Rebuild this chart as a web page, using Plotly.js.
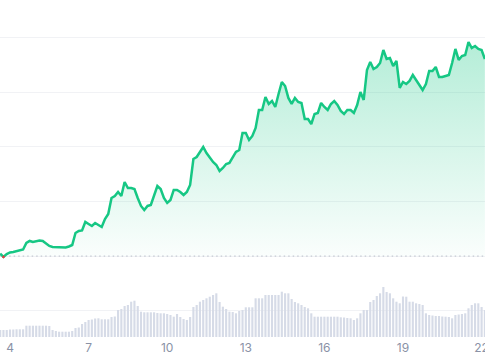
<!DOCTYPE html>
<html>
<head>
<meta charset="utf-8">
<script src="https://cdn.plot.ly/plotly-3.0.1.min.js"></script>
<style>html,body{margin:0;padding:0;background:#fff;overflow:hidden;}#chart{width:485px;height:360px;}</style>
</head>
<body>
<div id="chart"></div>
<script>
// Time grid: 3-hour steps, in day-of-month units
const T_START = 3.625;
const T_STEP = 0.125;

// Price series (one value per 3h step)
const PRICE = [
50.45,49.85,50.38,50.66,50.75,50.93,51.03,51.21,52.40,52.77,
52.58,52.67,52.86,52.77,52.31,51.85,51.67,51.67,51.58,51.67,
51.58,51.76,52.03,54.23,54.60,54.69,56.25,55.88,55.51,56.06,
55.70,55.33,56.79,57.71,60.64,61.01,61.74,61.01,63.57,62.47,
62.47,62.29,60.64,59.18,58.44,59.18,59.36,61.01,62.84,62.29,
60.64,59.73,60.27,62.11,62.11,61.74,61.19,61.74,63.02,67.78,
68.15,69.07,69.98,68.88,67.97,67.23,66.69,65.59,66.14,66.87,
67.05,68.15,69.07,69.43,72.55,72.55,71.26,72.00,73.46,76.76,
76.76,79.14,77.86,78.41,77.31,79.69,81.89,81.15,78.96,77.86,
78.96,78.22,78.04,75.11,75.11,74.19,76.03,76.21,78.04,77.31,
76.76,77.86,78.41,77.67,76.58,76.03,76.76,76.76,76.21,77.67,
80.06,78.59,84.08,85.55,84.27,84.63,85.37,87.75,86.10,86.28,
84.82,85.73,80.79,81.89,81.52,82.07,83.17,82.25,81.34,80.42,
81.52,83.90,83.90,84.63,82.80,82.80,82.99,83.17,85.37,87.93,
85.92,86.65,86.83,89.21,88.11,88.48,87.93,87.75,86.10
];

// Volume series (millions, one value per 3h step)
const VOLUME = [
7,7,7,7.5,7.5,7.7,7.7,7.7,11.3,11.3,
11.3,11.3,11.3,11.3,11.3,11,7,6,5.3,5.3,
5.3,5.3,6,9,9.5,13,15,17,17.5,18.5,
18.7,17.7,17.7,17.7,20,20.5,27,28,31,32,
35.3,36.3,31,25.3,24.7,24.7,24.7,24.7,24,23.7,
23.7,23,22,20.3,23,20,18,17,20,30,
32,35.3,37,38.7,40.3,42,43.7,35,30.3,28,
25.3,25,23.7,26,27,29.7,29.7,29.7,38.7,38.7,
38.7,42,42,42,42,42,45.3,43.7,43.7,38,
35,33.7,32,30,28.7,23.7,20.3,20.3,20.3,20.3,
20.3,20.3,20.3,20.3,19.7,19.5,19,18.7,17,18.7,
23.7,27,27,35,37,41,43.7,50,45,43.7,
38.7,35.3,33.7,40.5,40.3,35.3,35.3,33.7,33,32,
23.7,22,21.5,21,21,20.5,20.3,20,18.7,22,
22.5,23,23.7,28.7,32,33.7,33.7,30,27
];

// Opening price (dotted reference line)
const BASE_PRICE = 50;

// X tick labels (day of month)
const TICK_VALS = [4, 7, 10, 13, 16, 19, 22];
const TICK_TEXT = ['4', '7', '10', '13', '16', '19', '22'];

const n = PRICE.length;
const TIME = PRICE.map((_, i) => T_START + i * T_STEP);
const BASE = TIME.map(() => BASE_PRICE);

// segments below the opening price (red)
const redX = [], redY = [];
for (let i = 0; i < n; i++) {
  const prevBelow = i > 0 && PRICE[i - 1] < BASE_PRICE;
  const curBelow = PRICE[i] < BASE_PRICE;
  if (i > 0 && prevBelow !== curBelow) {
    const t = (BASE_PRICE - PRICE[i - 1]) / (PRICE[i] - PRICE[i - 1]);
    redX.push(TIME[i - 1] + t * (TIME[i] - TIME[i - 1]));
    redY.push(BASE_PRICE);
    if (!curBelow) { redX.push(null); redY.push(null); }
  }
  if (curBelow) { redX.push(TIME[i]); redY.push(PRICE[i]); }
}

const GREEN = '#16c784';
const maxP = Math.max(...PRICE);

const traces = [
  {
    type: 'bar', x: TIME, y: VOLUME, yaxis: 'y2',
    marker: {color: '#d6dbe7', line: {width: 0}},
    hoverinfo: 'skip', showlegend: false
  },
  {
    type: 'scatter', mode: 'lines', x: TIME, y: BASE,
    line: {color: '#b9bec9', width: 1, dash: '1.5px,3px'},
    hoverinfo: 'skip', showlegend: false
  },
  {
    type: 'scatter', mode: 'lines', x: TIME, y: PRICE,
    line: {color: GREEN, width: 2.5, shape: 'linear'},
    fill: 'tonexty',
    fillgradient: {
      type: 'vertical', start: BASE_PRICE, stop: maxP,
      colorscale: [[0, 'rgba(22,199,132,0.02)'], [1, 'rgba(22,199,132,0.32)']]
    },
    hoverinfo: 'skip', showlegend: false
  },
  {
    type: 'scatter', mode: 'lines', x: redX, y: redY,
    line: {color: '#ea3943', width: 2.5},
    connectgaps: false, hoverinfo: 'skip', showlegend: false
  }
];

const layout = {
  width: 485, height: 360,
  margin: {l: 0, r: 0, t: 0, b: 23, pad: 0},
  paper_bgcolor: '#ffffff', plot_bgcolor: '#ffffff',
  bargap: 0.35,
  font: {family: 'Inter, "Noto Sans", sans-serif', color: '#8a92a6', size: 12},
  xaxis: {
    range: [3.6183, 22.130], showgrid: false, zeroline: false, showline: false,
    tickmode: 'array', tickvals: TICK_VALS, ticktext: TICK_TEXT,
    ticks: '', tickfont: {size: 12, color: '#8a92a6'}, fixedrange: true,
    ticklabeloverflow: 'allow', ticklabelstandoff: 2
  },
  yaxis: {
    range: [35.18, 96.90], tick0: 40, dtick: 10, showticklabels: false,
    gridcolor: '#f1f2f5', gridwidth: 1, zeroline: false, showline: false, ticks: '', fixedrange: true
  },
  yaxis2: {
    range: [0, 337], overlaying: 'y', visible: false, showgrid: false, fixedrange: true
  },
  showlegend: false
};

Plotly.newPlot('chart', traces, layout, {displayModeBar: false, staticPlot: true});
</script>
</body>
</html>
